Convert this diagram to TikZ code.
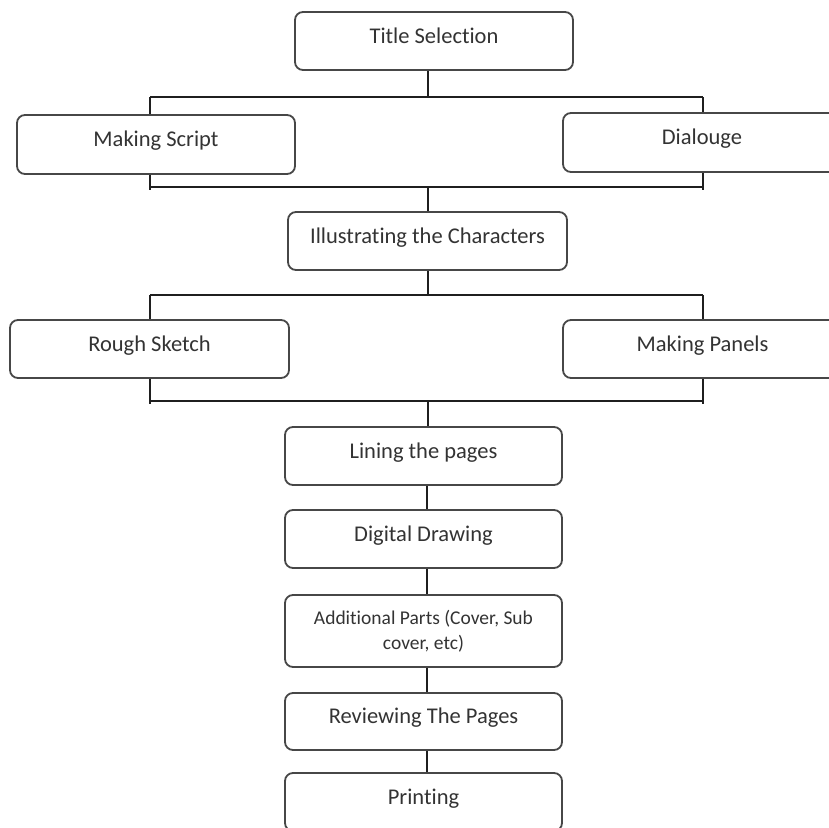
\documentclass[tikz,border=0pt]{standalone}
\usepackage{fontspec}
\setmainfont{Carlito}[Ligatures={NoCommon,NoRare,NoDiscretionary}]
\begin{document}
\begin{tikzpicture}[x=1pt,y=-1pt,
  stepbox/.style={draw=black!72, line width=1.8pt, rounded corners=8pt, fill=white,
    minimum width=278pt, minimum height=58pt, inner sep=2pt,
    text=black!80, font=\fontsize{22.5}{26}\selectfont,
    text height=15pt, text depth=10.6pt},
  conn/.style={draw=black!88, line width=1.5pt}]
\useasboundingbox (0,0) rectangle (829,827);
\clip (0,0) rectangle (829,827);
\fill[white] (0,0) rectangle (829,827);
% bus coordinates
\coordinate (b1L) at (150,97);  \coordinate (b1M) at (428,97);  \coordinate (b1R) at (703,97);
\coordinate (b2L) at (150,187); \coordinate (b2M) at (428,187); \coordinate (b2R) at (703,187);
\coordinate (b2Le) at (150,190); \coordinate (b2Re) at (703,190);
\coordinate (b3L) at (150,295); \coordinate (b3M) at (428,295); \coordinate (b3R) at (703,295);
\coordinate (b4L) at (150,401); \coordinate (b4M) at (428,401); \coordinate (b4R) at (703,401);
\coordinate (b4Le) at (150,404); \coordinate (b4Re) at (703,404);
\coordinate (cM) at (427,500);
% nodes
\node[stepbox] (title) at (434,41) {Title Selection};
\node[stepbox, minimum height=59pt] (ms) at (156,144.5) {Making Script};
\node[stepbox, minimum height=59pt] (dia) at (702,142.5) {Dialouge};
\node[stepbox, minimum width=279pt] (ill) at (427.5,241) {Illustrating the Characters};
\node[stepbox, minimum width=279pt] (rs) at (149.5,349) {Rough Sketch};
\node[stepbox, minimum width=279pt] (mp) at (702.5,349) {Making Panels};
\node[stepbox, minimum width=277pt] (lin) at (423.5,456) {Lining the pages};
\node[stepbox, minimum width=277pt] (dig) at (423.5,539) {Digital Drawing};
\node[stepbox, minimum width=277pt, minimum height=72pt, align=center,
  font=\fontsize{19.5}{25.5}\selectfont, text height=, text depth=] (add) at (423.5,631)
  {Additional Parts (Cover, Sub\\cover, etc)};
\node[stepbox, minimum width=277pt, minimum height=57pt] (rev) at (423.5,721.5) {Reviewing The Pages};
\node[stepbox, minimum width=277pt] (pri) at (423.5,802) {Printing};
% connectors
\draw[conn] (title.south -| b1M) -- (b1M);
\draw[conn] (b1L) -- (b1R);
\draw[conn] (b1L) -- (ms.north -| b1L);
\draw[conn] (b1R) -- (dia.north -| b1R);
\draw[conn] (ms.south -| b2L) -- (b2Le);
\draw[conn] (dia.south -| b2R) -- (b2Re);
\draw[conn] (b2L) -- (b2R);
\draw[conn] (b2M) -- (ill.north -| b2M);
\draw[conn] (ill.south -| b3M) -- (b3M);
\draw[conn] (b3L) -- (b3R);
\draw[conn] (b3L) -- (rs.north -| b3L);
\draw[conn] (b3R) -- (mp.north -| b3R);
\draw[conn] (rs.south -| b4L) -- (b4Le);
\draw[conn] (mp.south -| b4R) -- (b4Re);
\draw[conn] (b4L) -- (b4R);
\draw[conn] (b4M) -- (lin.north -| b4M);
\draw[conn] (lin.south -| cM) -- (dig.north -| cM);
\draw[conn] (dig.south -| cM) -- (add.north -| cM);
\draw[conn] (add.south -| cM) -- (rev.north -| cM);
\draw[conn] (rev.south -| cM) -- (pri.north -| cM);
\end{tikzpicture}
\end{document}
